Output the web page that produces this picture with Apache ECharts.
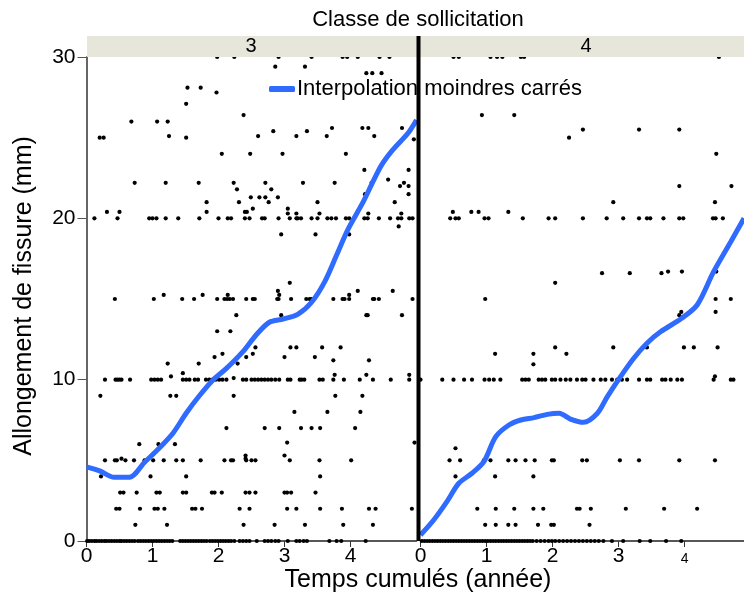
<!DOCTYPE html>
<html>
<head>
<meta charset="utf-8">
<script src="https://cdn.jsdelivr.net/npm/echarts@6/dist/echarts.min.js"></script>
<style>html,body{margin:0;padding:0;background:#fff}#c{width:744px;height:602px}</style>
</head>
<body>
<div id="c"></div>
<script>
// ---------- DATA ----------
const panels = ['3', '4'];
const yTicks = [0, 10, 20, 30];
const xTicks = [0, 1, 2, 3, 4];

// Class 3: x values (years) of points lying on common y-levels
const c3_y0 = [0.01,0.04,0.08,0.12,0.15,0.19,0.23,0.27,0.3,0.34,0.38,0.42,0.46,0.5,0.53,0.57,0.61,0.65,0.69,0.73,0.78,0.82,0.86,0.9,0.94,0.98,1.02,1.06,1.1,1.14,1.18,1.22,1.26,1.3,1.42,1.46,1.5,1.54,1.58,1.62,1.66,1.7,1.74,1.78,1.82,1.87,1.91,1.95,1.99,2.03,2.07,2.11,2.15,2.19,2.24,2.32,2.37,2.42,2.47,2.58,2.7,2.75,2.8,2.86,2.91,3.05,3.18,3.23,3.29,3.34,3.68,3.79,3.86,4.23];
const c3_y1 = [0.74,1.22,2.38,2.85,3.31,3.89,4.34];
const c3_y2 = [0.45,0.5,0.81,1.03,1.08,1.18,1.6,1.65,1.75,2.32,2.47,3.04,3.18,3.54,3.87,4.28,4.38,4.93];
const c3_y3 = [0.51,0.56,0.76,1.06,1.11,1.46,1.51,1.9,1.94,2.05,2.41,2.47,2.56,3.0,3.04,3.1,3.47];
const c3_y5 = [0.28,0.43,0.46,0.59,0.72,0.88,1.01,1.17,1.36,1.46,1.73,2.09,2.19,2.22,2.42,2.5,2.56,3.08,3.53,4.01];
const c3_y10 = [0.28,0.44,0.47,0.5,0.53,0.66,0.98,1.03,1.08,1.13,1.46,1.51,1.56,1.64,1.69,1.81,1.86,1.91,1.96,2.01,2.06,2.12,2.37,2.42,2.5,2.55,2.6,2.65,2.7,2.75,2.8,2.86,2.92,3.05,3.09,3.23,3.26,3.3,3.53,3.58,3.74,3.9,4.14,4.34,4.61,4.89];
const c3_y15 = [0.43,1.02,1.45,1.63,1.98,2.09,2.13,2.17,2.22,2.42,2.52,2.55,2.89,2.91,3.1,3.33,3.38,3.41,3.74,3.88,3.91,3.98,4.34,4.36,4.43,4.94];
const c3_y20 = [0.12,0.47,0.95,1.0,1.06,1.2,1.39,1.71,2.0,2.14,2.19,2.4,2.47,2.66,2.7,2.91,3.08,3.18,3.2,3.25,3.41,3.5,3.65,3.71,3.78,3.93,3.98,4.21,4.26,4.43,4.6,4.72,4.77,4.89,4.94];
const c3_y30 = [1.98,2.24,2.91,3.41,3.88,3.95,4.11,4.44,4.59];
// Class 3: other points [x, y]
const c3_other = [[2.86,29.4],[3.31,29.4],[4.24,29.0],[4.33,29.0],[4.47,29.0],[1.53,28.1],[1.73,28.1],[1.97,27.8],[1.51,27.1],[2.38,26.4],[0.68,26.0],[1.07,26.0],[1.23,26.0],[0.2,25.0],[0.26,25.0],[1.25,25.1],[1.51,25.0],[2.6,25.1],[2.83,25.4],[3.18,25.1],[3.34,25.4],[3.64,25.1],[3.72,25.6],[4.18,25.6],[4.27,25.6],[4.36,25.1],[4.78,25.6],[4.96,24.9],[2.05,24.0],[2.48,24.0],[2.97,24.0],[3.93,24.0],[4.21,23.0],[4.88,23.0],[0.73,22.2],[1.2,22.2],[1.7,22.2],[2.23,22.2],[2.71,22.2],[3.28,22.2],[3.76,22.2],[4.32,22.2],[4.57,22.4],[4.81,22.2],[4.75,22.0],[4.88,22.0],[4.88,21.5],[2.28,21.8],[2.8,21.8],[2.49,21.3],[2.62,21.3],[2.71,21.3],[2.9,21.3],[2.76,21.0],[1.82,21.0],[2.31,21.0],[3.5,21.0],[4.67,21.0],[4.22,21.5],[2.52,20.6],[3.05,20.6],[3.05,20.3],[3.18,20.3],[3.53,20.3],[4.27,20.3],[4.77,20.3],[0.31,20.4],[0.5,20.4],[1.82,20.4],[2.4,20.4],[2.43,20.4],[4.73,19.5],[2.95,19.0],[3.47,19.0],[3.98,19.0],[1.17,15.25],[1.76,15.25],[2.14,15.25],[2.92,15.25],[3.98,15.25],[4.11,15.5],[4.64,15.5],[3.08,16.0],[2.9,15.5],[2.27,14.0],[2.95,14.0],[4.24,14.0],[4.26,14.0],[4.78,14.0],[1.98,13.0],[2.18,13.0],[2.56,12.0],[3.09,12.0],[3.18,12.0],[3.57,12.0],[3.85,12.0],[1.94,11.4],[2.06,11.6],[2.42,11.4],[2.52,11.6],[3.0,11.4],[3.46,11.4],[1.23,11.0],[1.7,11.0],[2.29,11.0],[3.74,11.2],[4.28,11.2],[1.46,10.4],[3.76,10.3],[4.24,10.3],[4.89,10.3],[2.23,10.1],[1.28,10.2],[0.21,9],[1.27,9],[1.36,9],[2.23,9],[3.77,9],[4.18,9],[3.15,8],[3.65,8],[4.15,8],[2.12,7],[2.7,7],[2.92,7],[3.25,7],[3.41,7],[3.54,7],[4.07,7],[0.8,6],[1.09,6],[1.34,6],[3.04,6.1],[4.97,6.1],[2.41,5.3],[2.41,5.1],[3.0,5.3],[0.53,5.1],[0.22,4],[0.97,4],[1.51,4],[3.54,4]];

// Class 4
const c4_y0 = [0.02,0.06,0.1,0.14,0.18,0.22,0.26,0.3,0.34,0.38,0.42,0.46,0.5,0.54,0.58,0.62,0.66,0.7,0.74,0.78,0.82,0.86,0.9,0.94,0.98,1.02,1.06,1.1,1.14,1.18,1.22,1.26,1.3,1.34,1.38,1.42,1.46,1.5,1.54,1.58,1.62,1.66,1.7,1.76,1.82,1.88,1.94,1.99,2.04,2.1,2.16,2.22,2.28,2.34,2.4,2.46,2.52,2.58,2.64,2.7,2.77,2.9,3.07,3.32,3.48,3.72,3.95];
const c4_y1 = [0.98,1.14,1.33,1.44,1.78,1.98,2.02,2.56];
const c4_y2 = [0.86,1.14,1.42,1.71,1.86,2.37,2.41,2.58,3.11,3.69,4.19];
const c4_y5 = [0.96,1.06,1.33,1.44,1.59,1.73,1.99,2.02,2.45,2.52,3.02,3.31,3.92,4.46];
const c4_y10 = [0.0,0.33,0.5,0.66,0.78,0.97,1.04,1.11,1.21,1.54,1.59,1.64,1.79,1.84,1.89,1.99,2.04,2.12,2.2,2.27,2.37,2.45,2.5,2.62,2.73,2.8,2.9,2.98,3.05,3.13,3.31,3.43,3.48,3.66,3.71,3.79,3.89,3.96,4.44,4.7,4.74];
const c4_y15 = [0.98,4.47,4.7];
const c4_y20 = [0.45,0.53,0.58,0.97,1.03,1.55,1.94,2.04,2.46,2.82,3.07,3.31,3.43,3.48,3.68,3.92,3.98,4.43,4.47,4.58];
const c4_y30 = [0.5,0.58,1.06,1.16,1.24,1.52,1.57,4.52];
const c4_other = [[0.93,26.4],[1.42,26.4],[2.25,25.0],[2.46,25.5],[3.31,25.5],[3.92,25.5],[4.48,24.0],[3.92,22.0],[4.71,22.0],[2.92,21.0],[4.46,21.0],[0.49,20.4],[0.77,20.4],[0.88,20.4],[1.33,20.4],[2.75,16.6],[3.17,16.6],[3.65,16.6],[3.75,16.7],[3.96,16.7],[4.48,16.7],[2.04,16.0],[4.47,14.2],[3.92,14.0],[3.95,14.2],[2.92,12],[2.04,12],[3.43,12],[3.99,12],[4.14,12],[4.5,12],[1.13,11.6],[1.71,11.6],[1.71,10.95],[2.21,11.6],[4.46,10.2],[0.53,5.75],[0.44,5],[0.6,5],[0.53,4],[1.13,4],[1.71,4]];

// Least squares interpolation curves [x, y]
const fit3 = [[0,4.6],[0.2,4.35],[0.42,3.95],[0.65,3.95],[0.88,4.88],[1.1,5.75],[1.31,6.68],[1.51,7.92],[1.71,9.0],[1.91,9.95],[2.12,10.7],[2.37,11.74],[2.57,12.77],[2.77,13.56],[2.98,13.76],[3.2,14.05],[3.41,14.8],[3.61,16.08],[3.79,17.73],[3.96,19.3],[4.19,21.0],[4.34,22.27],[4.47,23.3],[4.64,24.24],[4.87,25.27],[5.0,26.1]];
const fit4 = [[0,0.37],[0.2,1.3],[0.4,2.44],[0.58,3.58],[0.78,4.2],[0.96,4.92],[1.14,6.47],[1.34,7.19],[1.52,7.5],[1.72,7.65],[1.92,7.85],[2.1,7.92],[2.27,7.56],[2.47,7.36],[2.68,7.92],[2.83,8.95],[3.03,10.19],[3.23,11.33],[3.43,12.26],[3.64,12.98],[3.94,13.76],[4.19,14.63],[4.44,16.7],[4.7,18.55],[4.9,20.0]];

// ---------- BUILD ----------
function rows(spec) {
  const out = [];
  spec.forEach(([y, xs]) => xs.forEach(x => out.push([x, y])));
  return out;
}
const pts3 = rows([[0,c3_y0],[1,c3_y1],[2,c3_y2],[3,c3_y3],[5,c3_y5],[10,c3_y10],[15,c3_y15],[20,c3_y20],[30,c3_y30]]).concat(c3_other);
const pts4 = rows([[0,c4_y0],[1,c4_y1],[2,c4_y2],[5,c4_y5],[10,c4_y10],[15,c4_y15],[20,c4_y20],[30,c4_y30]]).concat(c4_other);

const FONT = 'Liberation Sans, Arial, sans-serif';
const legendName = 'Interpolation moindres carrés';
const blue = '#2f6bff';

const chart = echarts.init(document.getElementById('c'), null, {renderer: 'canvas'});
const xBase = {
  type: 'value', min: 0, interval: 1,
  axisLine: {show: true, lineStyle: {color: '#222', width: 1.5}},
  axisTick: {show: true, length: 6, lineStyle: {color: '#333'}},
  splitLine: {show: false},
  axisLabel: {fontFamily: FONT, fontSize: 21, color: '#000', margin: 5, showMaxLabel: false}
};
const dotStyle = {color: '#000', opacity: 1};
chart.setOption({
  animation: false,
  backgroundColor: '#fff',
  grid: [
    {left: 86.5, top: 57, width: 330, height: 484},
    {left: 420.5, top: 57, width: 323.5, height: 484}
  ],
  xAxis: [
    Object.assign({}, xBase, {gridIndex: 0, max: 5}),
    Object.assign({}, xBase, {gridIndex: 1, max: 4.9,
      axisLabel: Object.assign({}, xBase.axisLabel, {
        formatter: v => v === 4 ? '{s|4}' : String(v),
        rich: {s: {fontSize: 14, fontFamily: FONT, color: '#000', padding: [6, 0, 0, 0]}}
      })})
  ],
  yAxis: [
    {type: 'value', gridIndex: 0, min: 0, max: 30, interval: 10,
     axisLine: {show: true, lineStyle: {color: '#666', width: 2}},
     axisTick: {show: true, length: 9, lineStyle: {color: '#555'}},
     splitLine: {show: false},
     axisLabel: {fontFamily: FONT, fontSize: 21, color: '#000', margin: 11}},
    {type: 'value', gridIndex: 1, min: 0, max: 30, interval: 10, show: false, splitLine: {show: false}}
  ],
  legend: {
    data: [legendName], left: 264, top: 73, itemWidth: 26, itemHeight: 6, itemGap: 0,
    icon: 'roundRect',
    textStyle: {fontFamily: FONT, fontSize: 22, color: '#000', padding: [0,0,0,-3]}
  },
  series: [
    {type: 'scatter', xAxisIndex: 0, yAxisIndex: 0, data: pts3, symbolSize: 4.2, itemStyle: dotStyle, z: 2},
    {type: 'scatter', xAxisIndex: 1, yAxisIndex: 1, data: pts4, symbolSize: 4.2, itemStyle: dotStyle, z: 2},
    {type: 'line', name: legendName, xAxisIndex: 0, yAxisIndex: 0, data: fit3, showSymbol: false, smooth: 0.3,
     lineStyle: {color: blue, width: 5}, itemStyle: {color: blue}, z: 3},
    {type: 'line', name: legendName, xAxisIndex: 1, yAxisIndex: 1, data: fit4, showSymbol: false, smooth: 0.3,
     lineStyle: {color: blue, width: 5}, itemStyle: {color: blue}, z: 3}
  ],
  graphic: [
    {type: 'rect', shape: {x: 87, y: 36, width: 657, height: 21}, style: {fill: '#e6e6da'}, z: 50},
    {type: 'text', x: 251, y: 46, style: {text: panels[0], fontFamily: FONT, fontSize: 20, fill: '#000', textAlign: 'center', textVerticalAlign: 'middle'}, z: 51},
    {type: 'text', x: 586, y: 46, style: {text: panels[1], fontFamily: FONT, fontSize: 20, fill: '#000', textAlign: 'center', textVerticalAlign: 'middle'}, z: 51},
    {type: 'line', shape: {x1: 418.5, y1: 36, x2: 418.5, y2: 541}, style: {stroke: '#000', lineWidth: 4}, z: 60},
    {type: 'text', x: 418, y: 20, style: {text: 'Classe de sollicitation', fontFamily: FONT, fontSize: 22, fill: '#000', textAlign: 'center', textVerticalAlign: 'middle'}, z: 51},
    {type: 'text', x: 418, y: 580, style: {text: 'Temps cumulés (année)', fontFamily: FONT, fontSize: 25, fill: '#000', textAlign: 'center', textVerticalAlign: 'middle'}, z: 51},
    {type: 'text', x: 24, y: 296, rotation: Math.PI / 2, style: {text: 'Allongement de fissure (mm)', fontFamily: FONT, fontSize: 25, fill: '#000', textAlign: 'center', textVerticalAlign: 'middle'}, z: 51}
  ]
});
</script>
</body>
</html>
